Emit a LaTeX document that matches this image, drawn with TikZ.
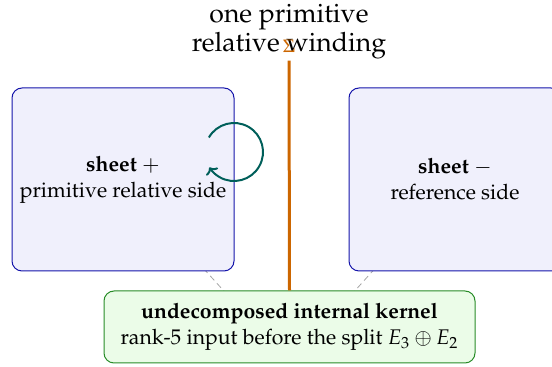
\documentclass[tikz,border=0pt]{standalone}
\usepackage[T1]{fontenc}
\usepackage{mathpazo}
\usetikzlibrary{arrows.meta,backgrounds}
\definecolor{boxfill}{RGB}{240,240,252}
\definecolor{boxdraw}{RGB}{20,20,170}
\definecolor{kfill}{RGB}{235,252,232}
\definecolor{kdraw}{RGB}{40,140,40}
\definecolor{orng}{RGB}{204,102,0}
\definecolor{tealc}{RGB}{0,95,90}
\begin{document}
\begin{tikzpicture}[x=0.5pt,y=-0.5pt,
  sheetbox/.style={draw=boxdraw, fill=boxfill, line width=0.5pt, rounded corners=5pt,
    minimum height=91.5pt, align=center, font=\fontsize{10.6}{13}\selectfont},
  kernelbox/.style={draw=kdraw, fill=kfill, line width=0.5pt, rounded corners=5pt,
    minimum width=185.5pt, minimum height=36pt, align=center, font=\fontsize{10.6}{13}\selectfont},
  guide/.style={draw=gray!70, line width=0.4pt, dash pattern=on 3pt off 2pt},
  titletext/.style={align=center, font=\fontsize{13.3}{14.5}\selectfont}]
\useasboundingbox (0,0) rectangle (552,367);
\node[sheetbox, minimum width=111pt] (plus) at (123,179.5) {\textbf{sheet} $+$\\ primitive relative side};
\node[sheetbox, minimum width=106pt] (minus) at (455,179.5) {\textbf{sheet} $-$\\ reference side};
\node[kernelbox] (kernel) at (289.5,327) {\textbf{undecomposed internal kernel}\\ rank-5 input before the split $E_3\oplus E_2$};
\node[titletext] (title) at (289,32) {one primitive\\ relative winding};
\node[text=orng, inner sep=0pt, font=\fontsize{9}{10}\selectfont] (sig) at (289,46) {$\Sigma$};
\begin{pgfonlayer}{background}
\draw[guide] (plus.center) -- (kernel.south);
\draw[guide] (minus.center) -- (kernel.south);
\end{pgfonlayer}
\draw[orng, line width=1.5pt, shorten >=4pt] (kernel.north) -- (sig.south);
\coordinate (loop) at (234,152);
\draw[tealc, line width=1pt, -{To[length=3pt,width=7pt]}] ([shift={(150:14.5pt)}]loop) arc[start angle=150, end angle=-148, radius=14.5pt];
\end{tikzpicture}
\end{document}
